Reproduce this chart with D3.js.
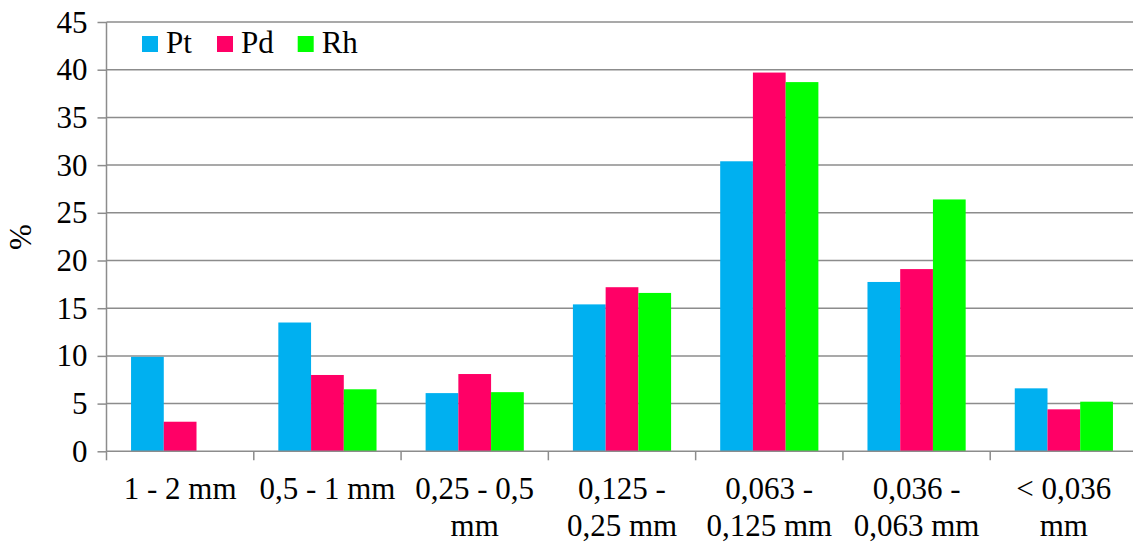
<!DOCTYPE html>
<html><head><meta charset="utf-8">
<script src="https://cdn.jsdelivr.net/npm/d3@7"></script>
<style>html,body{margin:0;padding:0;background:#fff;overflow:hidden}</style>
</head><body>
<svg id="c" width="1133" height="543"></svg>
<script>
const categories = ["1 - 2 mm", "0,5 - 1 mm", "0,25 - 0,5\nmm", "0,125 -\n0,25 mm", "0,063 -\n0,125 mm", "0,036 -\n0,063 mm", "< 0,036\nmm"];
const seriesNames = ["Pt", "Pd", "Rh"];
const ptValues = [9.9, 13.5, 6.1, 15.4, 30.4, 17.75, 6.6];
const pdValues = [3.1, 8.0, 8.1, 17.2, 39.7, 19.1, 4.4];
const rhValues = [0, 6.5, 6.2, 16.6, 38.7, 26.4, 5.2];
const yTicks = [0, 5, 10, 15, 20, 25, 30, 35, 40, 45];
const colors = ["#00B0F0", "#FF0066", "#00FF00"];
const seriesValues = [ptValues, pdValues, rhValues];

const svg = d3.select("#c");
const fs = 31;
const mLeft = 106.5, mRight = 1137.5, mTop = 22, mBottom = 451.3;

const x = d3.scaleBand().domain(categories).range([mLeft, mRight]).paddingInner(0).paddingOuter(0);
const x1 = d3.scaleBand().domain(seriesNames).range([0, x.bandwidth()]).paddingOuter(0.75).paddingInner(0);
const y = d3.scaleLinear().domain([0, 45]).range([mBottom, mTop]);

function serifText(parent) {
  return parent.append("text").attr("font-family", "Times New Roman").attr("font-size", fs).attr("fill", "#000");
}

// gridlines
svg.append("g").selectAll("line").data(yTicks.filter(d => d > 0)).join("line")
  .attr("x1", mLeft).attr("x2", mRight)
  .attr("y1", d => y(d)).attr("y2", d => y(d))
  .attr("stroke", "#8c8c8c").attr("stroke-width", 1.5);

// bars
const groups = svg.append("g").selectAll("g").data(categories).join("g")
  .attr("transform", d => `translate(${x(d)},0)`);
groups.selectAll("rect").data((d, i) => seriesNames.map((s, k) => ({s, v: seriesValues[k][i], k})))
  .join("rect")
  .attr("x", d => x1(d.s)).attr("width", x1.bandwidth())
  .attr("y", d => y(d.v)).attr("height", d => y(0) - y(d.v))
  .attr("fill", d => colors[d.k]);

// y axis (ticks and line from the axis generator, labels drawn as plain text)
const yAxis = d3.axisLeft(y).tickValues(yTicks).tickSize(9).tickFormat(() => "");
const gy = svg.append("g").attr("transform", `translate(${mLeft},0)`).call(yAxis);
gy.select(".domain").attr("stroke", "#8c8c8c").attr("stroke-width", 1.5).attr("d", `M0,${mBottom}V${mTop}`);
gy.selectAll(".tick line").attr("stroke", "#8c8c8c").attr("stroke-width", 1.5);
gy.selectAll(".tick text").remove();
yTicks.forEach(v => {
  serifText(svg).attr("x", mLeft - 19).attr("y", y(v)).attr("dy", "0.34em")
    .attr("text-anchor", "end").text(String(v));
});

// x axis
const xAxis = d3.axisBottom(x).tickSize(0).tickFormat(() => "");
const gx = svg.append("g").attr("transform", `translate(0,${mBottom})`).call(xAxis);
gx.select(".domain").attr("stroke", "#8c8c8c").attr("stroke-width", 1.5).attr("d", `M${mLeft},0H${mRight}`);
gx.selectAll(".tick text").remove();
svg.append("g").selectAll("line").data(categories).join("line")
  .attr("x1", d => x(d)).attr("x2", d => x(d)).attr("y1", mBottom).attr("y2", mBottom + 9)
  .attr("stroke", "#8c8c8c").attr("stroke-width", 1.5);
categories.forEach(c => {
  const t = serifText(svg).attr("text-anchor", "middle");
  c.split("\n").forEach((ln, i) => t.append("tspan")
    .attr("x", x(c) + x.bandwidth() / 2).attr("y", mBottom + 48 + i * 37).text(ln));
});

// y label
serifText(svg).attr("transform", "translate(31,237) rotate(-90)")
  .attr("text-anchor", "middle").text("%");

// legend
const legX = [142, 217, 297.7];
seriesNames.forEach((s, i) => {
  svg.append("rect").attr("x", legX[i]).attr("y", 36).attr("width", 16).attr("height", 16).attr("fill", colors[i]);
  serifText(svg).attr("x", legX[i] + 24).attr("y", 53).text(s);
});
</script>
</body></html>
